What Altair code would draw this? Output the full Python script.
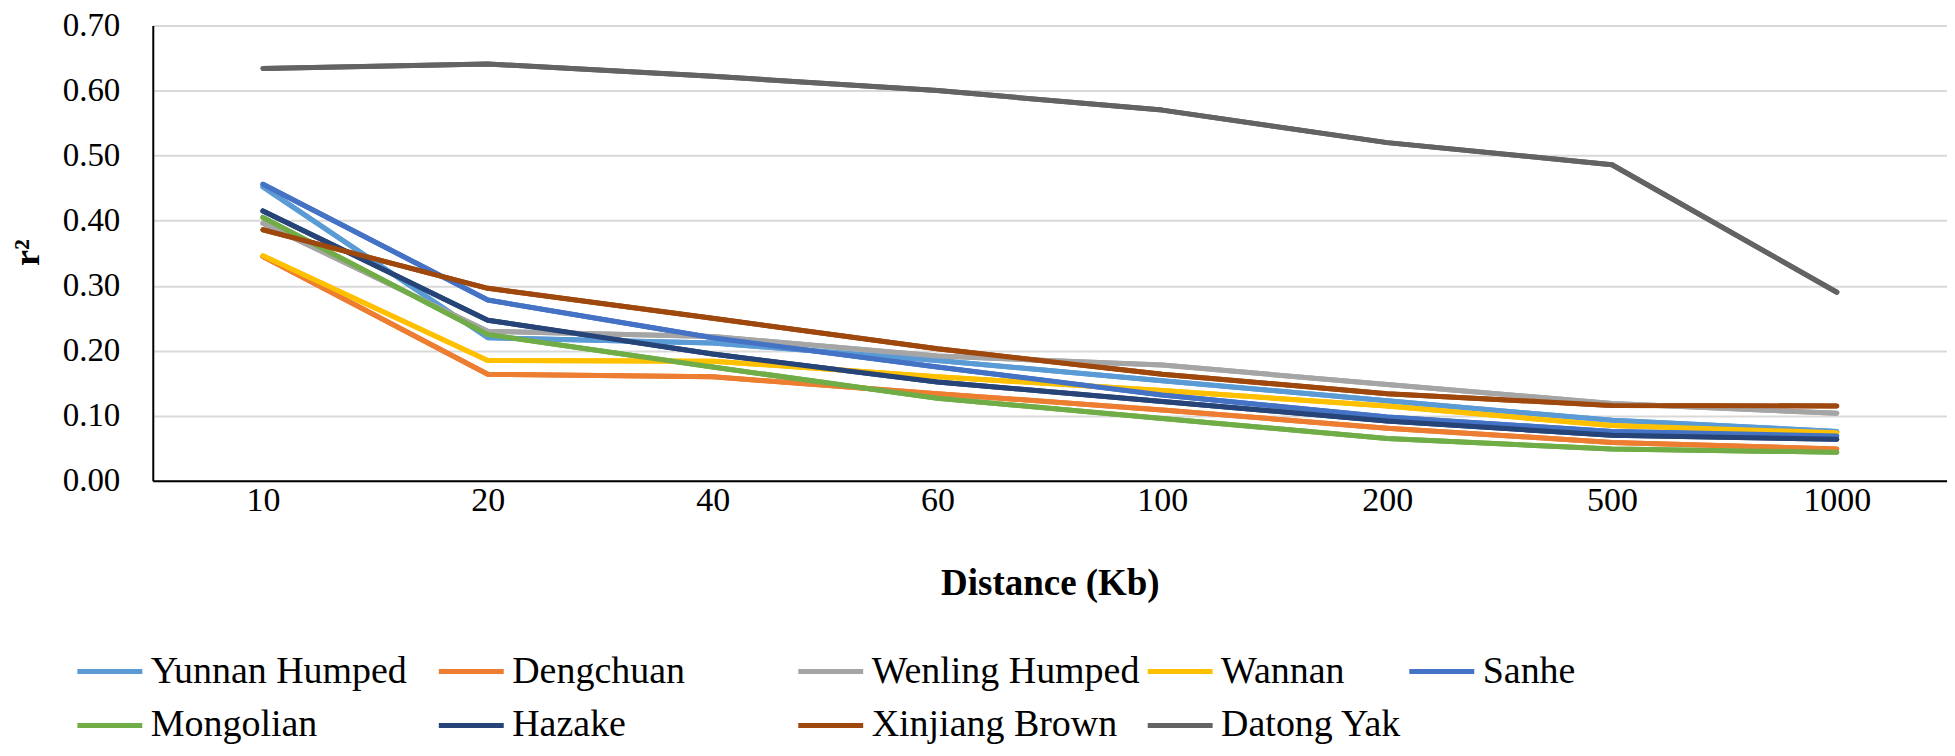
import altair as alt
import pandas as pd

distances = ["10", "20", "40", "60", "100", "200", "500", "1000"]

breeds = ["Yunnan Humped", "Dengchuan", "Wenling Humped", "Wannan", "Sanhe",
          "Mongolian", "Hazake", "Xinjiang Brown", "Datong Yak"]

yunnan_humped = [0.452, 0.220, 0.212, 0.185, 0.154, 0.123, 0.093, 0.076]
dengchuan = [0.345, 0.164, 0.160, 0.134, 0.109, 0.081, 0.059, 0.049]
wenling_humped = [0.396, 0.230, 0.222, 0.192, 0.178, 0.148, 0.119, 0.104]
wannan = [0.346, 0.185, 0.184, 0.160, 0.139, 0.115, 0.085, 0.074]
sanhe = [0.456, 0.278, 0.220, 0.175, 0.132, 0.098, 0.076, 0.069]
mongolian = [0.405, 0.225, 0.175, 0.127, 0.096, 0.065, 0.049, 0.044]
hazake = [0.415, 0.247, 0.195, 0.152, 0.122, 0.092, 0.070, 0.064]
xinjiang_brown = [0.386, 0.296, 0.250, 0.203, 0.164, 0.134, 0.116, 0.115]
datong_yak = [0.634, 0.641, 0.622, 0.600, 0.570, 0.520, 0.486, 0.290]

colors = ["#5B9BD5", "#ED7D31", "#A5A5A5", "#FFC000", "#4472C4",
          "#70AD47", "#264478", "#9E480E", "#636363"]

y_ticks = [0.0, 0.1, 0.2, 0.3, 0.4, 0.5, 0.6, 0.7]

# legend columns as laid out in the reference (column-wise groups)
legend_columns = [["Yunnan Humped", "Mongolian"], ["Dengchuan", "Hazake"],
                  ["Wenling Humped", "Xinjiang Brown"], ["Wannan", "Datong Yak"],
                  ["Sanhe"]]
legend_x = [-78, 284, 644, 994, 1256]

series = [yunnan_humped, dengchuan, wenling_humped, wannan, sanhe,
          mongolian, hazake, xinjiang_brown, datong_yak]

rows = []
for b, vals in zip(breeds, series):
    for d, v in zip(distances, vals):
        rows.append({"breed": b, "distance": d, "r2": v})
df = pd.DataFrame(rows)
color_of = dict(zip(breeds, colors))

FONT = "Liberation Serif, Times New Roman, DejaVu Serif, serif"

x_enc = alt.X("distance:N", sort=distances,
              scale=alt.Scale(type="point", padding=0.49),
              axis=alt.Axis(title="Distance (Kb)", labelAngle=0, ticks=False,
                            labelFontSize=34, labelPadding=3, labelColor="#000",
                            labelFont=FONT, titleFont=FONT,
                            titleFontSize=37, titleFontWeight="bold", titleColor="#000",
                            titlePadding=48, domainColor="#000", domainWidth=2,
                            grid=False))
y_enc = alt.Y("r2:Q", scale=alt.Scale(domain=[0, 0.7], nice=False),
              axis=alt.Axis(title="r²", values=y_ticks, format=".2f", ticks=False,
                            labelFontSize=33, labelPadding=33, labelColor="#000",
                            labelFont=FONT, titleFont=FONT,
                            titleFontSize=36, titleFontWeight="bold", titleColor="#000",
                            titleX=-125, titleY=227, titleAlign="center",
                            titleBaseline="middle",
                            domainColor="#000", domainWidth=2,
                            grid=True, gridColor="#D9D9D9", gridWidth=2))

base = alt.Chart(df).mark_line(strokeWidth=5, strokeCap="round", strokeJoin="round")

layers = []
for col, lx in zip(legend_columns, legend_x):
    layers.append(
        base.transform_filter(alt.FieldOneOfPredicate(field="breed", oneOf=col)).encode(
            x=x_enc, y=y_enc,
            color=alt.Color("breed:N", sort=col,
                            scale=alt.Scale(domain=col, range=[color_of[c] for c in col]),
                            legend=alt.Legend(title=None, orient="none",
                                              legendX=lx, legendY=612,
                                              direction="vertical",
                                              symbolType="stroke", symbolSize=4225,
                                              symbolStrokeWidth=5, labelFontSize=38,
                                              labelFont=FONT,
                                              labelOffset=6, labelLimit=600,
                                              labelColor="#000", rowPadding=-9)),
        )
    )

main = base.encode(
    x=x_enc, y=y_enc,
    color=alt.Color("breed:N", sort=breeds,
                    scale=alt.Scale(domain=breeds, range=colors), legend=None),
)
layers.append(main)

chart = alt.layer(*layers).resolve_scale(color="independent").properties(
    width=1797, height=456,
    autosize=alt.AutoSizeParams(type="none"),
    padding={"left": 145, "top": 17, "right": 0, "bottom": 265},
).configure(
    font=FONT,
).configure_view(
    stroke=None,
)

chart.save("out.html", embed_options={"renderer": "svg", "actions": False})
